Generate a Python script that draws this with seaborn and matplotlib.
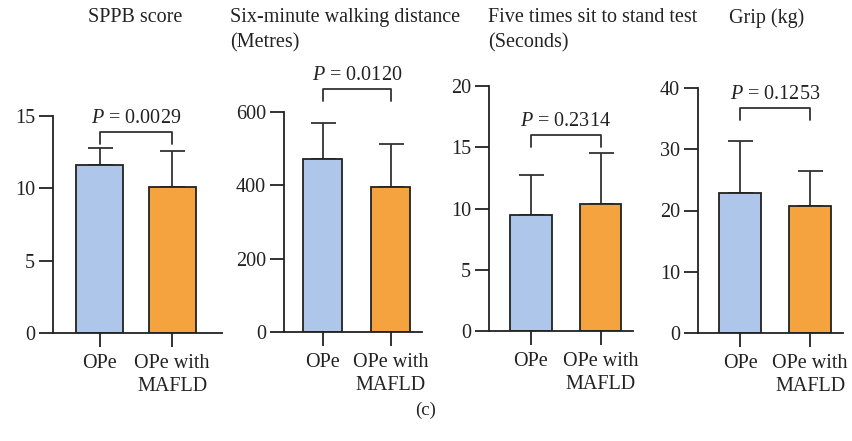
"""
Physical performance in OPe vs OPe with MAFLD — four bar panels (c).
"""
import matplotlib
matplotlib.use("Agg")
import matplotlib.pyplot as plt
import numpy as np
import pandas as pd
import seaborn as sns

GROUPS = ["OPe", "OPe with\nMAFLD"]
COLORS = ["#AEC6EA", "#F5A33F"]

TITLES = [
    "SPPB score",
    "Six-minute walking distance\n(Metres)",
    "Five times sit to stand test\n(Seconds)",
    "Grip (kg)",
]
MEANS = [
    [11.6, 10.1],
    [472, 395],
    [9.5, 10.4],
    [22.9, 20.7],
]
SDS = [
    [1.2, 2.5],
    [98, 118],
    [3.2, 4.1],
    [8.4, 5.8],
]
P_TEXT = ["0.0029", "0.0120", "0.2314", "0.1253"]
BRACKET_Y = [13.9, 663, 16.0, 36.7]
YMAX = [15, 600, 20, 40]
YSTEP = [5, 200, 5, 10]

# axes boxes in pixels: left, top, right, bottom
W, H = 852, 441
BOXES = [
    (53, 116, 222, 333),
    (284, 112, 422, 332),
    (489, 86, 633, 331),
    (698, 88, 843, 333),
]
XLIMS = [(-0.65, 1.69), (-0.57, 1.46), (-0.6, 1.46), (-0.6, 1.47)]
BAR_W = [0.65, 0.58, 0.59, 0.61]
TITLE_X = [88, 230, 488, 729]

sns.set_theme(style="ticks")
plt.rcParams["font.family"] = ["Liberation Serif", "DejaVu Serif"]
plt.rcParams["mathtext.fontset"] = "custom"
plt.rcParams["mathtext.rm"] = "Liberation Serif"
plt.rcParams["mathtext.it"] = "Liberation Serif:italic"

fig = plt.figure(figsize=(W / 100, H / 100), dpi=100)
FS = 14.5

for i in range(4):
    l, t, r, b = BOXES[i]
    ax = fig.add_axes([l / W, 1 - b / H, (r - l) / W, (b - t) / H])
    df = pd.DataFrame({"group": GROUPS, "value": MEANS[i]})
    sns.barplot(data=df, x="group", y="value", hue="group", palette=COLORS,
                saturation=1, errorbar=None, width=BAR_W[i],
                edgecolor="#222222", linewidth=1.3, legend=False, ax=ax,
                zorder=2)
    ax.errorbar([0, 1], MEANS[i], yerr=[[0, 0], SDS[i]], fmt="none",
                ecolor="#333333", elinewidth=1.3, capsize=9, capthick=1.3,
                zorder=1)
    ax.set_xlim(*XLIMS[i])
    ax.set_ylim(0, YMAX[i])
    ax.set_yticks(np.arange(0, YMAX[i] + 1e-9, YSTEP[i]))
    ax.set_xlabel("")
    ax.set_ylabel("")
    sns.despine(ax=ax)
    for s in ("left", "bottom"):
        ax.spines[s].set_linewidth(1.3)
        ax.spines[s].set_color("#222222")
    ax.tick_params(axis="both", labelsize=FS, width=1.3, length=10,
                   color="#222222", labelcolor="#222222")
    ax.tick_params(axis="x", pad=5)
    ax.tick_params(axis="y", pad=3)
    for lab in ax.get_xticklabels():
        lab.set_linespacing(1.3)

    # significance bracket
    drop = 12 / (b - t) * YMAX[i]
    yb = BRACKET_Y[i]
    ax.plot([0, 0, 1, 1], [yb - drop, yb, yb, yb - drop], color="#333333",
            lw=1.3, clip_on=False)
    ax.annotate(f"$P$ = {P_TEXT[i]}", xy=(0.5, yb), xytext=(0, 3),
                textcoords="offset points", ha="center", va="bottom",
                fontsize=FS, color="#222222", annotation_clip=False)

    fig.text(TITLE_X[i] / W, 1 - 8 / H, TITLES[i], ha="left", va="top",
             fontsize=FS, color="#222222", linespacing=1.45)

fig.text(426 / W, 1 - 410 / H, "(c)", ha="center", va="center",
         fontsize=FS - 1, color="#222222")

fig.savefig("out.png", dpi=100)
